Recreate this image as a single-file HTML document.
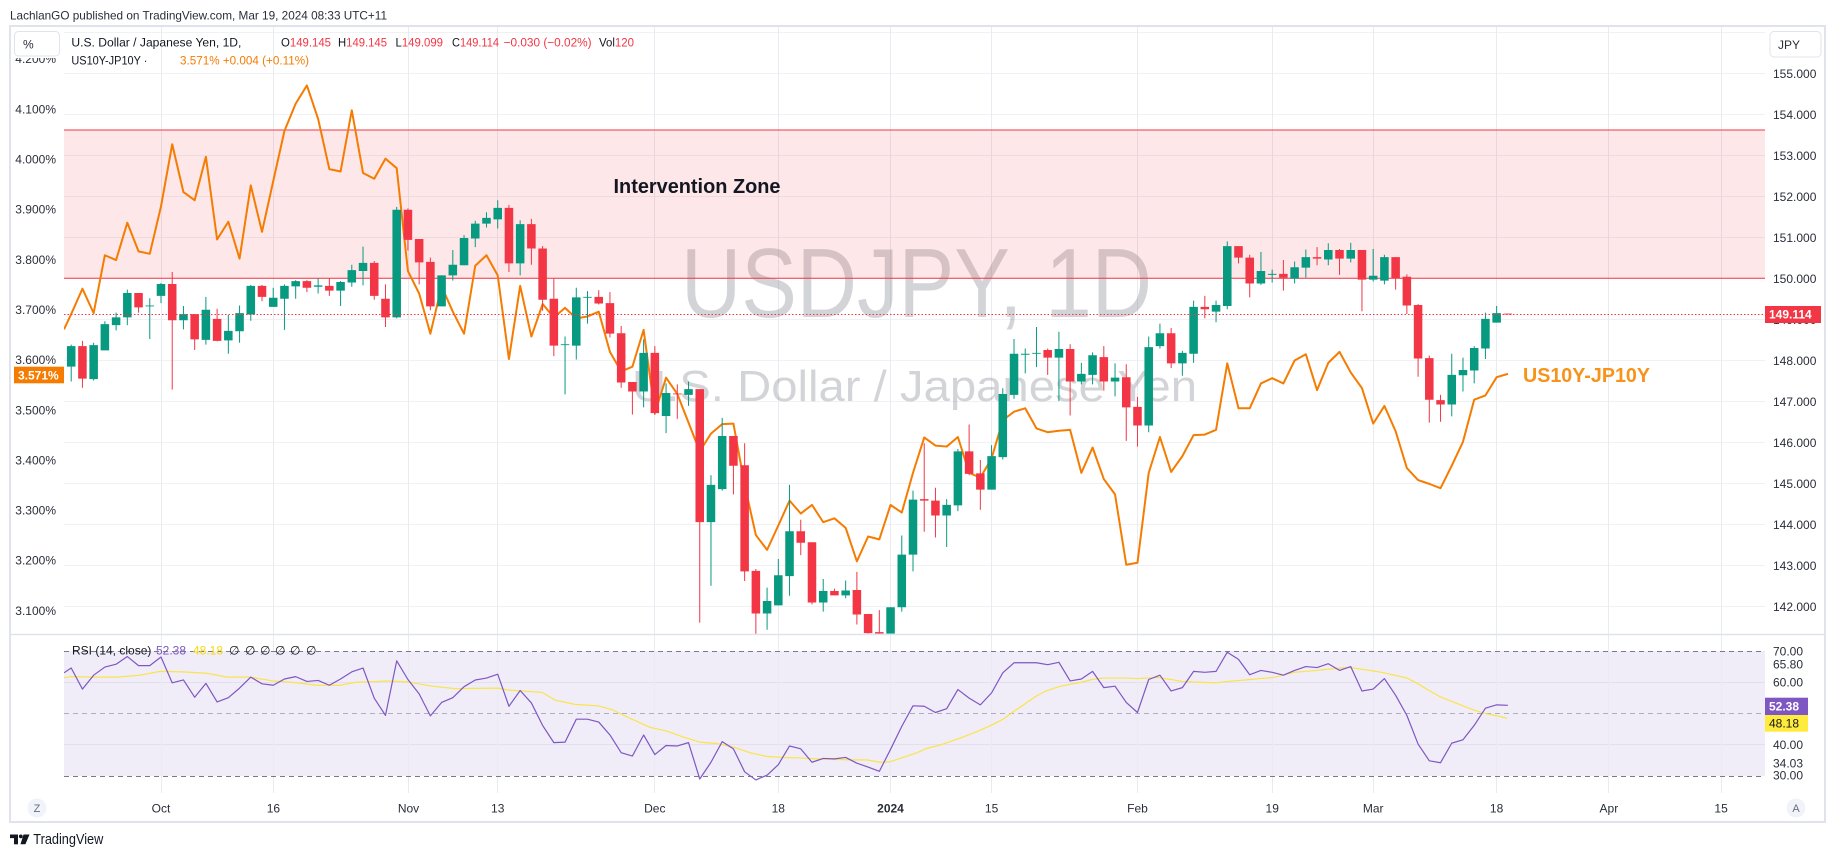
<!DOCTYPE html>
<html><head><meta charset="utf-8"><style>
html,body{margin:0;padding:0;background:#fff;}
svg{display:block;font-family:"Liberation Sans",sans-serif;}
</style></head><body>
<svg xmlns="http://www.w3.org/2000/svg" width="1835" height="857" viewBox="0 0 1835 857">
<defs>
<clipPath id="cp"><rect x="64" y="27" width="1701" height="607"/></clipPath>
<clipPath id="cr"><rect x="64" y="635" width="1701" height="158"/></clipPath>
</defs>
<rect width="1835" height="857" fill="#fff"/>
<text x="10" y="19.5" font-size="12" fill="#2a2e39" textLength="377" lengthAdjust="spacingAndGlyphs">LachlanGO published on TradingView.com, Mar 19, 2024 08:33 UTC+11</text>

<!-- RSI background -->
<rect x="64" y="651" width="1701" height="125" fill="#f0edf8"/>
<g stroke="#e3e0ee" stroke-width="1">
<line x1="64" y1="682.5" x2="1765" y2="682.5"/>
<line x1="64" y1="744.5" x2="1765" y2="744.5"/>
</g>

<!-- grid -->
<g stroke="#f0f1f5" stroke-width="1">
<line x1="64" y1="32.5" x2="1765" y2="32.5"/>
<line x1="64" y1="73.5" x2="1765" y2="73.5"/>
<line x1="64" y1="114.5" x2="1765" y2="114.5"/>
<line x1="64" y1="155.5" x2="1765" y2="155.5"/>
<line x1="64" y1="196.5" x2="1765" y2="196.5"/>
<line x1="64" y1="237.5" x2="1765" y2="237.5"/>
<line x1="64" y1="278.5" x2="1765" y2="278.5"/>
<line x1="64" y1="319.5" x2="1765" y2="319.5"/>
<line x1="64" y1="360.5" x2="1765" y2="360.5"/>
<line x1="64" y1="401.5" x2="1765" y2="401.5"/>
<line x1="64" y1="442.5" x2="1765" y2="442.5"/>
<line x1="64" y1="483.5" x2="1765" y2="483.5"/>
<line x1="64" y1="524.5" x2="1765" y2="524.5"/>
<line x1="64" y1="565.5" x2="1765" y2="565.5"/>
<line x1="64" y1="606.5" x2="1765" y2="606.5"/>
</g>
<g stroke="#e9ebf0" stroke-width="1">
<line x1="161.5" y1="27" x2="161.5" y2="793"/>
<line x1="273.5" y1="27" x2="273.5" y2="793"/>
<line x1="408.5" y1="27" x2="408.5" y2="793"/>
<line x1="497.5" y1="27" x2="497.5" y2="793"/>
<line x1="654.5" y1="27" x2="654.5" y2="793"/>
<line x1="778.5" y1="27" x2="778.5" y2="793"/>
<line x1="890.5" y1="27" x2="890.5" y2="793"/>
<line x1="991.5" y1="27" x2="991.5" y2="793"/>
<line x1="1137.5" y1="27" x2="1137.5" y2="793"/>
<line x1="1272.5" y1="27" x2="1272.5" y2="793"/>
<line x1="1373.5" y1="27" x2="1373.5" y2="793"/>
<line x1="1496.5" y1="27" x2="1496.5" y2="793"/>
<line x1="1608.5" y1="27" x2="1608.5" y2="793"/>
<line x1="1721.5" y1="27" x2="1721.5" y2="793"/>
</g>

<!-- watermark -->
<text x="681" y="317" font-size="98" fill="rgba(120,123,134,0.33)" textLength="471" lengthAdjust="spacingAndGlyphs">USDJPY, 1D</text>
<text x="632" y="401" font-size="44" fill="rgba(120,123,134,0.33)" textLength="565" lengthAdjust="spacingAndGlyphs">U.S. Dollar / Japanese Yen</text>

<!-- zone -->
<rect x="64" y="130" width="1701" height="148.3" fill="rgba(242,54,69,0.12)"/>
<line x1="64" y1="130" x2="1765" y2="130" stroke="#f23645" stroke-width="1"/>
<line x1="64" y1="278.3" x2="1765" y2="278.3" stroke="#f23645" stroke-width="1"/>
<text x="613.5" y="193" font-size="20" font-weight="bold" fill="#131722" textLength="167" lengthAdjust="spacingAndGlyphs">Intervention Zone</text>

<g clip-path="url(#cp)">
<g transform="translate(71.2 40) scale(11.224 0.47831)">
<polyline fill="none" stroke="#f57c00" stroke-width="2" stroke-linejoin="round" vector-effect="non-scaling-stroke" points="-0.64,605 0,573 1,520 2,571 3,450 4,460 5,382 6,442 7,447 8,348 9,218 10,318 11,335 12,244 13,417 14,380 15,457 16,304 17,401 18,295 19,190 20,133 21,95 22,165 23,270 24,275 25,147 26,278 27,290 28,248 29,268 30,483 31,530 32,614 33,515 34,568 35,614 36,472 37,450 38,492 39,667 40,514 41,620 42,552 43,580 44,560 45,582 46,578 47,568 48,652 49,693 50,683 51,606 52,780 53,706 54,740 55,800 56,860 57,823 58,803 59,802 60,930 61,1035 62,1066 63,1015 64,963 65,990 66,972 67,1008 68,1000 69,1020 70,1090 71,1038 72,1044 73,972 74,988 75,905 76,831 77,848 78,850 79,830 80,905 81,915 82,875 83,795 84,777 85,770 86,812 87,820 88,817 89,815 90,905 91,852 92,918 93,950 94,1097 95,1093 96,905 97,830 98,903 99,870 100,826 101,825 102,815 103,676 104,770 105,770 106,718 107,707 108,718 109,670 110,657 111,732 112,675 113,652 114,695 115,728 116,802 117,765 118,818 119,895 120,920 121,928 122,937 123,890 124,840 125,752 126,743 127,705 128,698"/>
<path fill="none" stroke="#089981" stroke-width="1" vector-effect="non-scaling-stroke" d="M0 637V714M2 633V712M3 588V649M4 570V607M5 522V596M7 540V625M8 508V550M10 556V605M12 537V637M14 575V656M15 555V633M16 512V587M18 518V558M19 511V606M20 502V541M22 498V530M24 504V556M25 470V516M26 432V513M29 349V582M33 492V557M34 439V503M35 408V471M36 378V433M37 360V392M38 335V394M40 377V492M44 620V741M45 518V668M46 525V593M51 626V768M53 718V822M55 714V765M57 910V1141M58 790V942M62 1145V1233M63 1085V1182M64 930V1162M67 1127V1195M69 1130V1167M73 1186V1241M74 1036V1195M75 942V1111M78 960V1060M79 855V985M82 847V940M83 728V877M84 625V750M85 645V697M86 600V684M88 610V755M90 675V720M91 653V720M93 676V745M96 620V820M97 593V645M99 650V702M100 545V675M102 545V590M103 421V563M106 443V512M107 480V507M109 463V509M110 438V497M112 425V471M114 424V465M116 437V505M117 449V511M123 656V787M124 664V735M125 640V718M126 570V667M127 556V591"/>
<path fill="none" stroke="#f23645" stroke-width="1" vector-effect="non-scaling-stroke" d="M1 629V727M6 529V570M9 485V731M11 573V648M13 562V630M17 512V546M21 502V527M23 498V535M27 462V543M28 511V600M30 352V440M31 416V511M32 455V565M39 345V485M41 374V470M42 431V566M43 499V661M47 523V553M48 527V622M49 598V727M50 715V783M52 640V784M54 720V792M56 730V1218M59 828V950M60 843V1131M61 1106V1242M65 1003V1077M66 1050V1180M68 1147V1161M70 1112V1222M71 1200V1241M72 1192V1241M76 843V1028M77 936V1040M80 804V910M81 878V982M87 645V700M89 636V785M92 640V733M94 678V838M95 746V850M98 602V686M101 535V582M104 431V467M105 449V538M108 460V524M111 433V471M113 437V491M115 439V567M118 454V522M119 490V573M120 552V704M121 660V800M122 742V798M128 572V574"/>
<g transform="translate(-0.38 0)">
<path fill="#089981" d="M0 640h.76v43h-.76zM2 638h.76v71h-.76zM3 594h.76v55h-.76zM4 580h.76v16h-.76zM5 529h.76v51h-.76zM7 555h.76v2h-.76zM8 510h.76v25h-.76zM10 573h.76v13h-.76zM12 564h.76v63h-.76zM14 608h.76v20h-.76zM15 571h.76v38h-.76zM16 514h.76v60h-.76zM18 539h.76v19h-.76zM19 514h.76v27h-.76zM20 504h.76v11h-.76zM22 513h.76v3h-.76zM24 506h.76v18h-.76zM25 481h.76v26h-.76zM26 466h.76v17h-.76zM29 355h.76v225h-.76zM33 492h.76v65h-.76zM34 470h.76v22h-.76zM35 414h.76v57h-.76zM36 384h.76v31h-.76zM37 372h.76v12h-.76zM38 351h.76v24h-.76zM40 385h.76v82h-.76zM44 636h.76v2h-.76zM45 538h.76v101h-.76zM46 537h.76v2h-.76zM51 654h.76v81h-.76zM53 738h.76v48h-.76zM55 730h.76v12h-.76zM57 930h.76v78h-.76zM58 828h.76v111h-.76zM62 1173h.76v26h-.76zM63 1119h.76v63h-.76zM64 1027h.76v94h-.76zM67 1152h.76v24h-.76zM69 1151h.76v10h-.76zM73 1186h.76v55h-.76zM74 1076h.76v110h-.76zM75 961h.76v115h-.76zM78 972h.76v22h-.76zM79 860h.76v113h-.76zM82 870h.76v70h-.76zM83 740h.76v132h-.76zM84 656h.76v86h-.76zM85 656h.76v2h-.76zM86 654h.76v2h-.76zM88 646h.76v18h-.76zM90 698h.76v16h-.76zM91 659h.76v41h-.76zM93 706h.76v8h-.76zM96 642h.76v164h-.76zM97 613h.76v27h-.76zM99 654h.76v22h-.76zM100 558h.76v98h-.76zM102 554h.76v14h-.76zM103 431h.76v125h-.76zM106 483h.76v26h-.76zM107 489h.76v2h-.76zM109 475h.76v24h-.76zM110 454h.76v22h-.76zM112 439h.76v20h-.76zM114 439h.76v18h-.76zM116 493h.76v8h-.76zM117 454h.76v49h-.76zM123 700h.76v62h-.76zM124 690h.76v11h-.76zM125 644h.76v47h-.76zM126 583h.76v62h-.76zM127 571h.76v20h-.76z"/>
<path fill="#f23645" d="M1 640h.76v68h-.76zM6 529h.76v30h-.76zM9 510h.76v76h-.76zM11 573h.76v53h-.76zM13 583h.76v46h-.76zM17 514h.76v23h-.76zM21 504h.76v14h-.76zM23 514h.76v10h-.76zM27 466h.76v69h-.76zM28 541h.76v39h-.76zM30 355h.76v63h-.76zM31 416h.76v49h-.76zM32 464h.76v93h-.76zM39 351h.76v116h-.76zM41 385h.76v51h-.76zM42 436h.76v107h-.76zM43 541h.76v98h-.76zM47 537h.76v14h-.76zM48 550h.76v64h-.76zM49 613h.76v103h-.76zM50 715h.76v20h-.76zM52 654h.76v126h-.76zM54 739h.76v2h-.76zM56 730h.76v278h-.76zM59 828h.76v62h-.76zM60 889h.76v222h-.76zM61 1110h.76v89h-.76zM65 1027h.76v24h-.76zM66 1050h.76v126h-.76zM68 1152h.76v9h-.76zM70 1150h.76v51h-.76zM71 1200h.76v40h-.76zM72 1238h.76v3h-.76zM76 960h.76v3h-.76zM77 963h.76v31h-.76zM80 860h.76v47h-.76zM81 906h.76v34h-.76zM87 648h.76v16h-.76zM89 646h.76v68h-.76zM92 663h.76v51h-.76zM94 705h.76v63h-.76zM95 767h.76v39h-.76zM98 613h.76v63h-.76zM101 558h.76v5h-.76zM104 431h.76v24h-.76zM105 455h.76v54h-.76zM108 489h.76v8h-.76zM111 454h.76v3h-.76zM113 439h.76v18h-.76zM115 439h.76v62h-.76zM118 454h.76v44h-.76zM119 495h.76v60h-.76zM120 554h.76v112h-.76zM121 665h.76v87h-.76zM122 753h.76v9h-.76zM128 572h.76v2h-.76z"/>
</g>
</g>
</g>
<line x1="64" y1="314.5" x2="1765" y2="314.5" stroke="#f23645" stroke-width="1" stroke-dasharray="1.5 2"/>
<text x="1523" y="382" font-size="20" font-weight="bold" fill="#f7931a" textLength="127" lengthAdjust="spacingAndGlyphs">US10Y-JP10Y</text>

<!-- RSI pane -->
<g stroke-width="1" fill="none">
<line x1="64" y1="651.5" x2="1765" y2="651.5" stroke="#787b86" stroke-dasharray="5 4"/>
<line x1="64" y1="713.5" x2="1765" y2="713.5" stroke="rgba(120,123,134,0.55)" stroke-dasharray="5 4"/>
<line x1="64" y1="776.5" x2="1765" y2="776.5" stroke="#787b86" stroke-dasharray="5 4"/>
</g>
<g clip-path="url(#cr)">
<g transform="translate(0 40) scale(1 0.47831)">
<polyline fill="none" stroke="#fbe34a" stroke-width="1.2" vector-effect="non-scaling-stroke" points="64,1333 72,1331 93,1332 117,1332 140,1328 160,1320 183,1321 207,1324 227,1332 250,1332 273,1340 293,1343 317,1349 340,1349 355,1343 388,1340 408,1342 432,1351 455,1356 498,1355 508,1359 542,1364 555,1380 575,1389 598,1392 612,1400 632,1420 650,1437 667,1445 683,1457 700,1468 717,1471 733,1478 750,1490 767,1498 783,1500 800,1501 817,1503 833,1504 850,1505 867,1505 880,1510 890,1509 903,1500 917,1490 927,1481 940,1474 950,1467 962,1458 978,1445 992,1432 1003,1420 1013,1405 1025,1388 1036,1372 1047,1360 1059,1352 1070,1347 1081,1343 1092,1337 1103,1334 1126,1334 1137,1335 1159,1333 1171,1337 1182,1341 1204,1343 1215,1344 1227,1341 1245,1338 1260,1335 1273,1333 1283,1328 1294,1322 1317,1318 1340,1313 1350,1312 1373,1319 1384,1323 1407,1334 1418,1346 1429,1360 1440,1373 1463,1392 1474,1401 1485,1408 1497,1413 1507,1418"/>
</g>
<g transform="translate(71.2 40) scale(11.224 0.47831)">
<polyline fill="none" stroke="#7e57c2" stroke-width="1.2" stroke-linejoin="round" vector-effect="non-scaling-stroke" points="-0.64,1323 0,1313 1,1357 2,1328 3,1311 4,1305 5,1289 6,1308 7,1308 8,1290 9,1344 10,1338 11,1374 12,1345 13,1384 14,1375 15,1355 16,1332 17,1346 18,1349 19,1336 20,1331 21,1341 22,1339 23,1349 24,1336 25,1321 26,1313 27,1376 28,1412 29,1298 30,1337 31,1367 32,1413 33,1385 34,1375 35,1352 36,1338 37,1334 38,1326 39,1393 40,1360 41,1386 42,1433 43,1469 44,1468 45,1420 46,1420 47,1426 48,1453 49,1490 50,1497 51,1453 52,1494 53,1475 54,1476 55,1469 56,1545 57,1510 58,1467 59,1482 60,1530 61,1547 62,1537 63,1515 64,1476 65,1482 66,1510 67,1502 68,1503 69,1500 70,1512 71,1520 72,1529 73,1483 74,1435 75,1392 76,1393 77,1406 78,1398 79,1358 80,1376 81,1390 82,1365 83,1323 84,1302 85,1302 86,1302 87,1306 88,1301 89,1340 90,1336 91,1320 92,1354 93,1351 94,1385 95,1406 96,1337 97,1328 98,1361 99,1354 100,1320 101,1322 102,1320 103,1280 104,1295 105,1327 106,1318 107,1322 108,1328 109,1318 110,1310 111,1312 112,1304 113,1318 114,1310 115,1361 116,1357 117,1335 118,1370 119,1412 120,1472 121,1507 122,1511 123,1470 124,1463 125,1433 126,1397 127,1390 128,1391"/>
</g>
</g>
<g font-size="12">
<text x="72" y="654.5" fill="#131722">RSI (14, close)</text>
<text x="156" y="654.5" fill="#7e57c2">52.38</text>
<text x="193" y="654.5" fill="#f5d90a">48.18</text>
<text x="229" y="654.5" fill="#131722">∅</text>
<text x="245" y="654.5" fill="#131722">∅</text>
<text x="260" y="654.5" fill="#131722">∅</text>
<text x="275" y="654.5" fill="#131722">∅</text>
<text x="290" y="654.5" fill="#131722">∅</text>
<text x="306" y="654.5" fill="#131722">∅</text>
</g>

<!-- frame & separators -->
<rect x="10" y="26" width="1815" height="796" fill="none" stroke="#e0e3eb" stroke-width="2"/>
<line x1="10" y1="634.5" x2="1825" y2="634.5" stroke="#e0e3eb" stroke-width="1.5"/>

<!-- left axis -->
<g font-size="12" fill="#2a2e39" text-anchor="end">
<text x="56" y="63.2">4.200%</text>
<text x="56" y="113.3">4.100%</text>
<text x="56" y="163.5">4.000%</text>
<text x="56" y="213.6">3.900%</text>
<text x="56" y="263.8">3.800%</text>
<text x="56" y="313.9">3.700%</text>
<text x="56" y="364.1">3.600%</text>
<text x="56" y="414.3">3.500%</text>
<text x="56" y="464.4">3.400%</text>
<text x="56" y="514.6">3.300%</text>
<text x="56" y="564.7">3.200%</text>
<text x="56" y="614.9">3.100%</text>
</g>
<rect x="12" y="28" width="52" height="30" fill="#fff"/>
<rect x="14.5" y="31.5" width="45" height="24.5" rx="4" fill="#fff" stroke="#e0e3eb" stroke-width="1"/>
<text x="23" y="48.5" font-size="12" fill="#2a2e39">%</text>
<rect x="14" y="366.7" width="50" height="16.6" fill="#f57c00"/>
<text x="18" y="379.3" font-size="12" font-weight="bold" fill="#fff">3.571%</text>

<!-- legend -->
<g font-size="12.3">
<text x="71.4" y="46.3" fill="#131722" textLength="170" lengthAdjust="spacingAndGlyphs">U.S. Dollar / Japanese Yen, 1D,</text>
<text x="281" y="46.3" fill="#131722" textLength="50" lengthAdjust="spacingAndGlyphs">O<tspan fill="#f23645">149.145</tspan></text>
<text x="338" y="46.3" fill="#131722" textLength="49" lengthAdjust="spacingAndGlyphs">H<tspan fill="#f23645">149.145</tspan></text>
<text x="395.5" y="46.3" fill="#131722" textLength="47.5" lengthAdjust="spacingAndGlyphs">L<tspan fill="#f23645">149.099</tspan></text>
<text x="452" y="46.3" fill="#131722" textLength="47" lengthAdjust="spacingAndGlyphs">C<tspan fill="#f23645">149.114</tspan></text>
<text x="503.6" y="46.3" fill="#f23645" textLength="88" lengthAdjust="spacingAndGlyphs">−0.030 (−0.02%)</text>
<text x="599" y="46.3" fill="#131722" textLength="35" lengthAdjust="spacingAndGlyphs">Vol<tspan fill="#f23645">120</tspan></text>
<text x="71.4" y="64.3" fill="#131722" textLength="76" lengthAdjust="spacingAndGlyphs">US10Y-JP10Y ·</text>
<text x="180" y="64.3" fill="#f57c00" textLength="129" lengthAdjust="spacingAndGlyphs">3.571%  +0.004 (+0.11%)</text>
</g>

<!-- right axis -->
<g font-size="12" fill="#2a2e39">
<text x="1773" y="77.8">155.000</text>
<text x="1773" y="118.8">154.000</text>
<text x="1773" y="159.8">153.000</text>
<text x="1773" y="200.8">152.000</text>
<text x="1773" y="241.8">151.000</text>
<text x="1773" y="282.8">150.000</text>
<text x="1773" y="323.8">149.000</text>
<text x="1773" y="364.8">148.000</text>
<text x="1773" y="405.8">147.000</text>
<text x="1773" y="446.8">146.000</text>
<text x="1773" y="487.8">145.000</text>
<text x="1773" y="528.8">144.000</text>
<text x="1773" y="569.8">143.000</text>
<text x="1773" y="610.8">142.000</text>
<text x="1773" y="655.3">70.00</text>
<text x="1773" y="686.6">60.00</text>
<text x="1773" y="749">40.00</text>
<text x="1773" y="779.6">30.00</text>
<rect x="1770" y="756" width="40" height="13" fill="#fff"/>
<text x="1773" y="767.6">34.03</text>
<text x="1773" y="668.6">65.80</text>
</g>
<rect x="1770" y="31.5" width="51" height="25.5" rx="4" fill="#fff" stroke="#e0e3eb" stroke-width="1"/>
<text x="1778" y="49" font-size="12" fill="#2a2e39">JPY</text>
<rect x="1765" y="306" width="56" height="17" fill="#f23645"/>
<text x="1769" y="318.6" font-size="12" font-weight="bold" fill="#fff">149.114</text>
<rect x="1765" y="697.7" width="43" height="17.3" fill="#7e57c2"/>
<text x="1769" y="710.6" font-size="12" font-weight="bold" fill="#fff">52.38</text>
<rect x="1765" y="715" width="43" height="16.7" fill="#ffeb3b"/>
<text x="1769" y="727.7" font-size="12" fill="#131722">48.18</text>

<!-- time axis -->
<g font-size="12" fill="#2a2e39" text-anchor="middle">
<text x="161" y="812.3">Oct</text>
<text x="273.4" y="812.3">16</text>
<text x="408.5" y="812.3">Nov</text>
<text x="497.7" y="812.3">13</text>
<text x="654.8" y="812.3">Dec</text>
<text x="778.3" y="812.3">18</text>
<text x="890.5" y="812.3" font-weight="bold">2024</text>
<text x="991.6" y="812.3">15</text>
<text x="1137.5" y="812.3">Feb</text>
<text x="1272.2" y="812.3">19</text>
<text x="1373.2" y="812.3">Mar</text>
<text x="1496.6" y="812.3">18</text>
<text x="1608.9" y="812.3">Apr</text>
<text x="1721.1" y="812.3">15</text>
</g>
<circle cx="37" cy="808" r="9.5" fill="#f0f3fa"/>
<text x="37" y="812" font-size="11" fill="#6a6d78" text-anchor="middle">Z</text>
<circle cx="1796" cy="808" r="9.5" fill="#f0f3fa"/>
<text x="1796" y="812" font-size="11" fill="#6a6d78" text-anchor="middle">A</text>

<!-- footer logo -->
<g fill="#131722">
<rect x="10" y="834.5" width="8" height="3.6"/>
<rect x="14" y="834.5" width="4" height="9.8"/>
<circle cx="20.8" cy="836.4" r="1.9"/>
<polygon points="23.5,834.5 29.5,834.5 25.4,844.3 20.5,844.3"/>
</g>
<text x="33.3" y="844.2" font-size="14.5" fill="#131722" textLength="70" lengthAdjust="spacingAndGlyphs">TradingView</text>
</svg>
</body></html>
